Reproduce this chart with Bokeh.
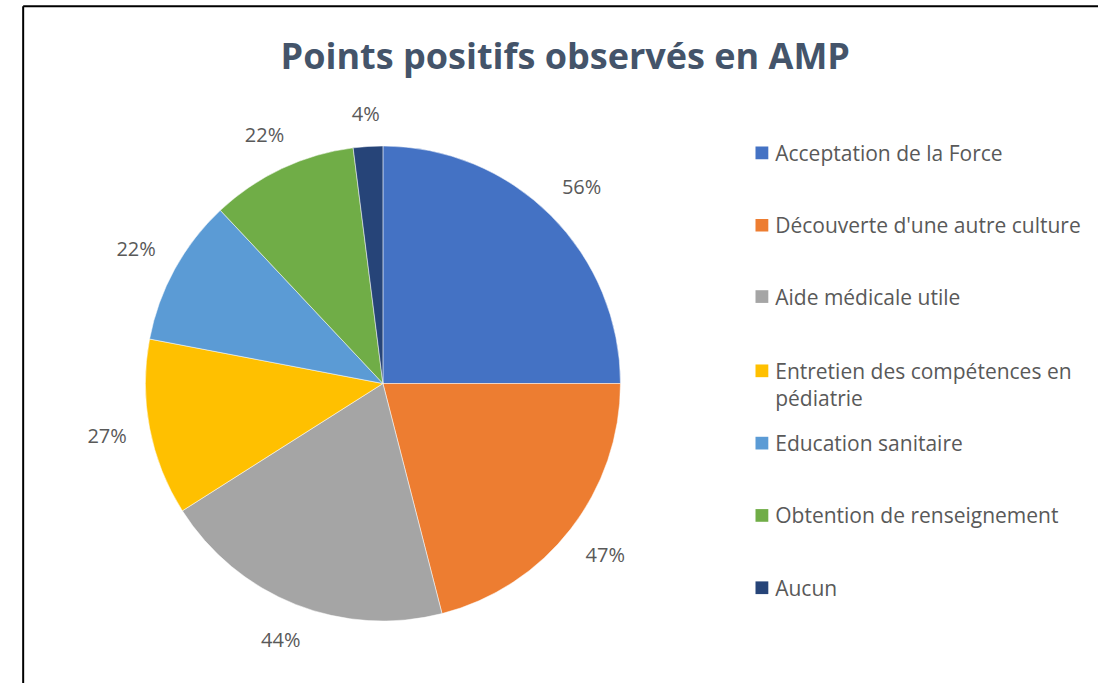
import math
from bokeh.plotting import figure
from bokeh.models import Range1d, ColumnDataSource
from bokeh.core.properties import value
from bokeh.embed import file_html
from bokeh.resources import INLINE

# ---- data ----
categories = ["Acceptation de la Force", "Découverte d'une autre culture", "Aide médicale utile",
              "Entretien des compétences en\npédiatrie", "Education sanitaire",
              "Obtention de renseignement", "Aucun"]
counts = [25, 21, 20, 12, 10, 10, 2]          # answers (45 respondents)
labels = ["56%", "47%", "44%", "27%", "22%", "22%", "4%"]
colors = ["#4472C4", "#ED7D31", "#A5A5A5", "#FFC000", "#5B9BD5", "#70AD47", "#264478"]
title_text = "Points positifs observés en AMP"

# ---- layout (reference pixel coordinates; y_data = 699 - y_screen) ----
W, H = 1098, 683
SW, SH = 1114, 699
def Y(ys):
    return SH - ys

cx, cy, r = 388, Y(392), 241
FONT = "Open Sans"

p = figure(width=W, height=H, output_backend="svg", toolbar_location=None,
           x_range=Range1d(0, SW), y_range=Range1d(0, SH),
           min_border=0, outline_line_color=None)
p.axis.visible = False
p.grid.visible = False
p.background_fill_color = "white"
p.border_fill_color = "white"

# frame lines
p.segment(x0=[23, 23], y0=[Y(6), Y(6)], x1=[23, SW], y1=[Y(SH), Y(6)],
          line_color="black", line_width=2)

# wedges
total = float(sum(counts))
starts, ends, mids = [], [], []
acc = 0.0
for v in counts:
    a0 = math.pi / 2 - 2 * math.pi * acc / total
    acc += v
    a1 = math.pi / 2 - 2 * math.pi * acc / total
    starts.append(a0)
    ends.append(a1)
    mids.append((a0 + a1) / 2)
src = ColumnDataSource(dict(start=starts, end=ends, color=colors))
p.wedge(x=cx, y=cy, radius=r, start_angle="start", end_angle="end", direction="clock",
        fill_color="color", line_color="white", line_width=0.5, source=src)

# data labels outside
lx, ly = [], []
for m, t in zip(mids, labels):
    w = 11 * len(t)
    h = 18
    d = r + 26 + abs(math.cos(m)) * w / 2 + abs(math.sin(m)) * h / 2
    lx.append(cx + d * math.cos(m))
    ly.append(cy + d * math.sin(m))
p.text(x=lx, y=ly, text=labels, text_font=value(FONT), text_font_size="20px",
       text_color="#595959", text_align="center", text_baseline="middle")

# title
p.text(x=[573], y=[Y(56)], text=[title_text], text_font=value(FONT), text_font_size="36px",
       text_font_style="bold", text_color="#44546A", text_align="center", text_baseline="middle")

# legend
row_y = [156, 230, 303, 379, 453, 527, 601]
p.rect(x=[772.5] * len(categories), y=[Y(v) for v in row_y], width=13, height=13,
       fill_color=colors, line_color=None)
leg_x, leg_y, leg_t = [], [], []
for cat, yy in zip(categories, row_y):
    for k, part in enumerate(cat.split("\n")):
        leg_x.append(786)
        leg_y.append(Y(yy + 28 * k))
        leg_t.append(part)
p.text(x=leg_x, y=leg_y, text=leg_t, text_font=value(FONT),
       text_font_size="21px", text_color="#595959", text_align="left", text_baseline="middle")

open("out.html", "w").write(file_html(p, INLINE))
